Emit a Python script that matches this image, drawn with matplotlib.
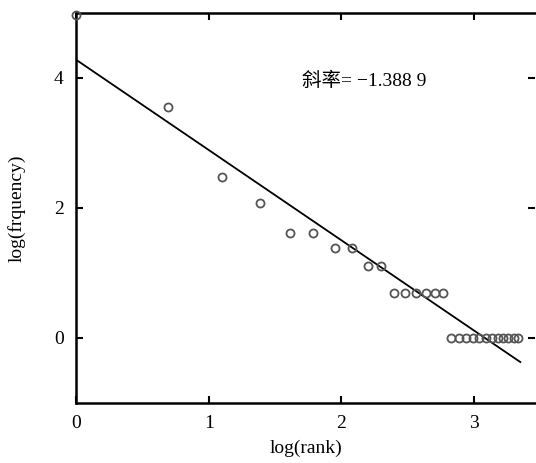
import numpy as np
import matplotlib.pyplot as plt

plt.rcParams['font.family'] = ['Liberation Serif', 'Noto Sans CJK SC']
plt.rcParams['axes.unicode_minus'] = True

# log(rank) and log(frequency)
log_rank = [0.0, 0.69, 1.10, 1.39, 1.61, 1.79, 1.95, 2.08, 2.20, 2.30,
            2.40, 2.48, 2.56, 2.64, 2.71, 2.77,
            2.83, 2.89, 2.94, 2.99, 3.04, 3.09, 3.14, 3.18, 3.22, 3.26, 3.30, 3.33]
log_freq = [4.97, 3.56, 2.48, 2.08, 1.61, 1.61, 1.39, 1.39, 1.10, 1.10,
            0.69, 0.69, 0.69, 0.69, 0.69, 0.69,
            0, 0, 0, 0, 0, 0, 0, 0, 0, 0, 0, 0]

# fitted line
slope = -1.3889
intercept = 4.28
fit_x = [0.0, 3.35]

fig = plt.figure(figsize=(5.36, 4.63), dpi=100)
ax = fig.add_axes([0.142, 0.13, 0.856, 0.842])

ax.plot(log_rank, log_freq, 'o', mfc='none', mec='#555555', mew=1.3,
        ms=5.8, clip_on=False, zorder=3)
fx = np.array(fit_x)
ax.plot(fx, intercept + slope * fx, color='black', lw=1.3)

ax.text(1.70, 3.96, '斜率= \u22121.388 9', fontsize=14, va='center', ha='left')

ax.set_xlim(0, 3.46)
ax.set_ylim(-1, 5)
ax.set_xticks([0, 1, 2, 3])
ax.set_yticks([0, 2, 4])
ax.tick_params(direction='in', top=True, right=True, labelsize=14, length=5,
               width=1.5, pad=9)
for s in ax.spines.values():
    s.set_linewidth(1.8)
ax.spines['right'].set_visible(False)

ax.set_xlabel('log(rank)', fontsize=14, labelpad=5)
ax.set_ylabel('log(frquency)', fontsize=14, labelpad=20)

fig.savefig('out.png', dpi=100)
